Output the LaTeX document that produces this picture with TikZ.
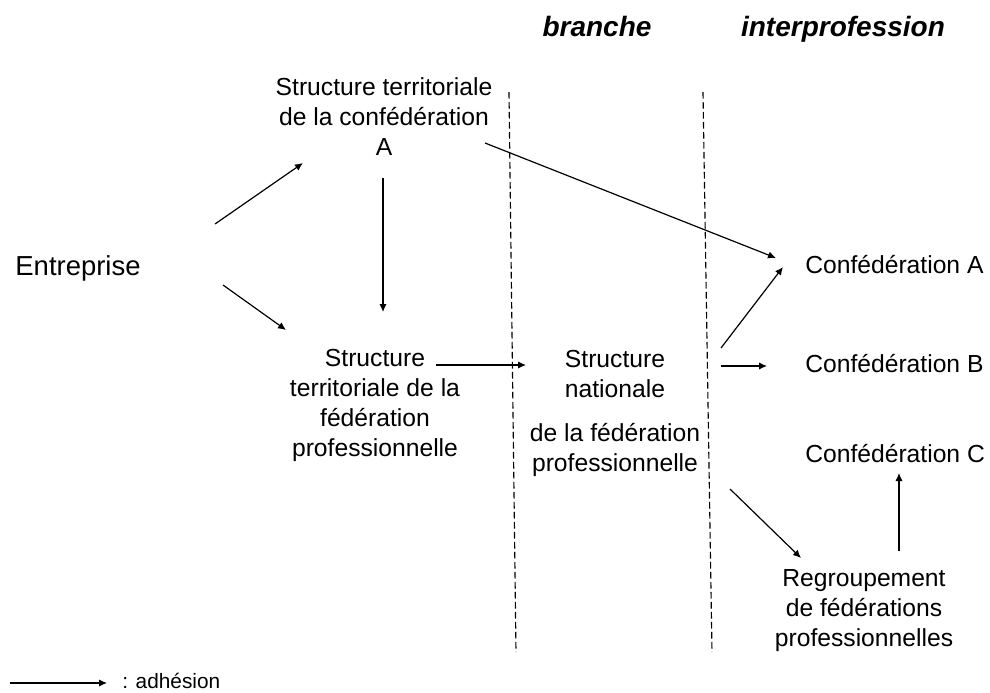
\documentclass[tikz,border=0pt]{standalone}
\usepackage{fontspec}
\setmainfont{Liberation Sans}
\usetikzlibrary{arrows.meta}
\tikzset{
  lbl/.style={inner sep=0pt, font=\fontsize{18.5}{22.5}\selectfont, align=center},
  big/.style={inner sep=0pt, font=\fontsize{20.6}{25}\selectfont},
  small/.style={inner sep=0pt, font=\fontsize{15.6}{19}\selectfont},
  head/.style={inner sep=0pt, font=\fontsize{21}{25}\selectfont\bfseries\itshape},
  adh/.style={-{Latex[length=6pt,width=5.5pt]}, line width=0.9pt},
  limit/.style={dash pattern=on 5pt off 2.5pt, line width=0.85pt}
}
\begin{document}
\begin{tikzpicture}[x=0.75pt, y=-0.75pt]
\useasboundingbox (0,0) rectangle (990,693);
\node[head, anchor=base] (br) at (597,36) {branche};
\node[head, anchor=base] (ip) at (843,36) {interprofession};
\draw[limit] (509,92) -- (516,652);
\draw[limit] (703,92) -- (712,652);
\node[big, anchor=base] (ent) at (78,275) {Entreprise};
\node[lbl, anchor=north] (cta) at (384,77) {Structure territoriale\\de la confédération\\A};
\node[lbl, anchor=north] (stf) at (375,349) {Structure\\territoriale de la\\fédération\\professionnelle};
\node[lbl, anchor=north] (snf) at (615,350) {Structure\\nationale\\[10.5pt]de la fédération\\professionnelle};
\node[lbl, anchor=base west] (ca) at (805,273) {Confédération A};
\node[lbl, anchor=base west] (cb) at (805,372) {Confédération B};
\node[lbl, anchor=base west] (cc) at (805,462) {Confédération C};
\node[lbl, anchor=north] (rfp) at (864,569) {Regroupement\\de fédérations\\professionnelles};
\draw[adh] ([shift={(137,-51)}]ent.base) -- ([shift={(-81,86)}]cta.north);
\draw[adh] ([shift={(145,10)}]ent.base) -- ([shift={(-89,-19)}]stf.north);
\draw[adh] ([shift={(-1,101)}]cta.north) -- ([shift={(8,-37)}]stf.north);
\draw[adh] ([shift={(101,66)}]cta.north) -- ([shift={(-29,-15)}]ca.base west);
\draw[adh] ([shift={(61,16)}]stf.north) -- ([shift={(-89,15)}]snf.north);
\draw[adh] ([shift={(106,-2)}]snf.north) -- ([shift={(-22,-6)}]ca.base west);
\draw[adh] ([shift={(106,16)}]snf.north) -- ([shift={(-38,-6)}]cb.base west);
\draw[adh] ([shift={(115,139)}]snf.north) -- ([shift={(-63,-11)}]rfp.north);
\draw[adh] ([shift={(35,-18)}]rfp.north) -- ([shift={(94,11)}]cc.base west);
\coordinate (lg) at (10,683);
\node[small, anchor=base west] (lgt) at (122,688) {: adhésion};
\draw[adh] (lg) -- ([shift={(-15,-5)}]lgt.base west);
\end{tikzpicture}
\end{document}
